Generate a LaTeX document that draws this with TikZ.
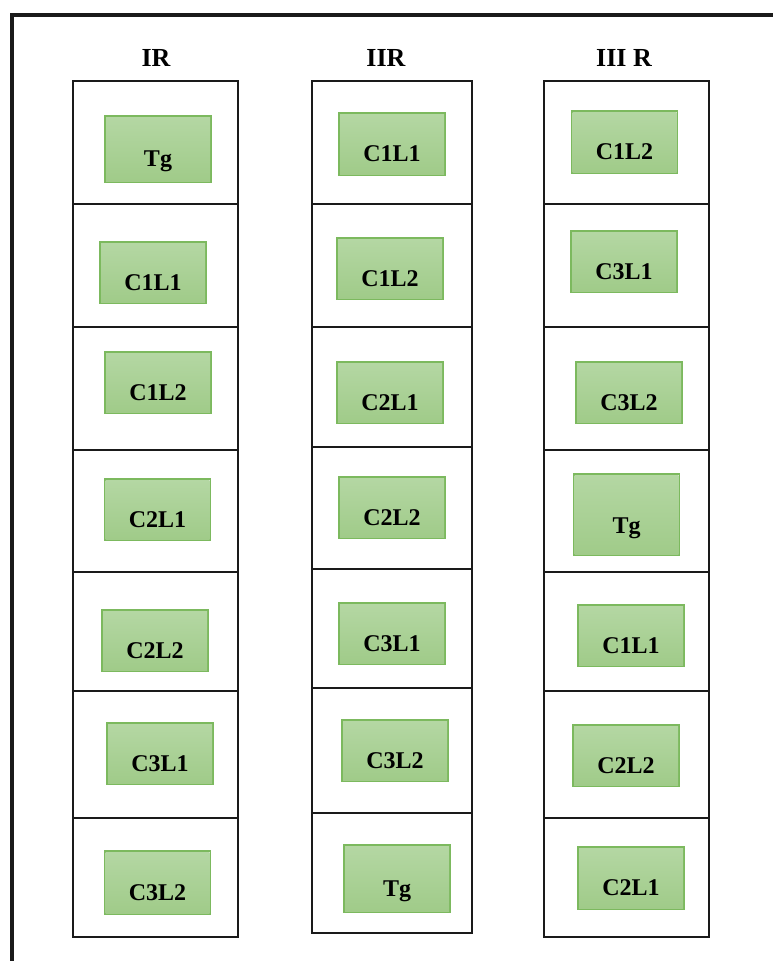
\documentclass[tikz,border=0pt]{standalone}
\usepackage{fontspec}
\setmainfont{Liberation Serif}
\definecolor{gtop}{HTML}{B4D7A3}
\definecolor{gbot}{HTML}{A0CB89}
\definecolor{gline}{HTML}{7CB95E}
\definecolor{ink}{HTML}{1A1A1A}
\begin{document}
\begin{tikzpicture}[x=1pt,y=-1pt,
  cellA/.style={draw=ink,line width=1.8pt,minimum width=165pt,inner sep=0pt},
  cellB/.style={draw=ink,line width=1.8pt,minimum width=160pt,inner sep=0pt},
  tag/.style={line width=1.6pt,top color=gtop,bottom color=gbot,
    minimum width=104pt,minimum height=59pt,inner sep=0pt,
    font=\fontsize{24}{28}\selectfont\bfseries,text height=35pt,text depth=0pt,
    append after command={\pgfextra{\draw[gline,line width=1.6pt]
      (\tikzlastnode.south west) rectangle (\tikzlastnode.north east);}}},
  head/.style={anchor=base,font=\fontsize{26}{30}\selectfont\bfseries,inner sep=0pt}]
\useasboundingbox (0,0) rectangle (773,961);
\fill[white] (0,0) rectangle (773,961);

% outer frame (runs past the right and bottom edges)
\draw[line width=4pt,ink] (12,990) -- (12,15) -- (800,15);

% column headings
\node[head] (h1) at (156,66) {IR};
\node[head] (h2) at (386,66) {IIR};
\node[head] (h3) at (624,66) {III R};

% column 1 cells
\node[cellA,minimum height=123pt] (a1) at (155.5,142.5) {};
\node[cellA,minimum height=123pt] (a2) at (155.5,265.5) {};
\node[cellA,minimum height=123pt] (a3) at (155.5,388.5) {};
\node[cellA,minimum height=122pt] (a4) at (155.5,511) {};
\node[cellA,minimum height=119pt] (a5) at (155.5,631.5) {};
\node[cellA,minimum height=127pt] (a6) at (155.5,754.5) {};
\node[cellA,minimum height=119pt] (a7) at (155.5,877.5) {};

% column 2 cells
\node[cellB,minimum height=123pt] (b1) at (392,142.5) {};
\node[cellB,minimum height=123pt] (b2) at (392,265.5) {};
\node[cellB,minimum height=120pt] (b3) at (392,387) {};
\node[cellB,minimum height=122pt] (b4) at (392,508) {};
\node[cellB,minimum height=119pt] (b5) at (392,628.5) {};
\node[cellB,minimum height=125pt] (b6) at (392,750.5) {};
\node[cellB,minimum height=120pt] (b7) at (392,873) {};

% column 3 cells
\node[cellA,minimum height=123pt] (c1) at (626.5,142.5) {};
\node[cellA,minimum height=123pt] (c2) at (626.5,265.5) {};
\node[cellA,minimum height=123pt] (c3) at (626.5,388.5) {};
\node[cellA,minimum height=122pt] (c4) at (626.5,511) {};
\node[cellA,minimum height=119pt] (c5) at (626.5,631.5) {};
\node[cellA,minimum height=127pt] (c6) at (626.5,754.5) {};
\node[cellA,minimum height=119pt] (c7) at (626.5,877.5) {};

% column 1 tags
\node[tag,minimum height=64pt] (ta1) at (158,149) {Tg};
\node[tag] (ta2) at (153,272.5) {C1L1};
\node[tag] (ta3) at (158,382.5) {C1L2};
\node[tag] (ta4) at (157.5,509.5) {C2L1};
\node[tag] (ta5) at (155,640.5) {C2L2};
\node[tag] (ta6) at (160,753.5) {C3L1};
\node[tag,minimum height=61pt] (ta7) at (157.5,882.5) {C3L2};

% column 2 tags
\node[tag,minimum height=60pt] (tb1) at (392,144) {C1L1};
\node[tag] (tb2) at (390,268.5) {C1L2};
\node[tag] (tb3) at (390,392.5) {C2L1};
\node[tag] (tb4) at (392,507.5) {C2L2};
\node[tag] (tb5) at (392,633.5) {C3L1};
\node[tag] (tb6) at (395,750.5) {C3L2};
\node[tag,minimum height=65pt] (tb7) at (397,878.5) {Tg};

% column 3 tags
\node[tag,minimum height=60pt] (tc1) at (624.5,142) {C1L2};
\node[tag] (tc2) at (624,261.5) {C3L1};
\node[tag] (tc3) at (629,392.5) {C3L2};
\node[tag,minimum height=79pt,text height=38pt] (tc4) at (626.5,514.5) {Tg};
\node[tag] (tc5) at (631,635.5) {C1L1};
\node[tag] (tc6) at (626,755.5) {C2L2};
\node[tag,minimum height=60pt] (tc7) at (631,878) {C2L1};
\end{tikzpicture}
\end{document}
